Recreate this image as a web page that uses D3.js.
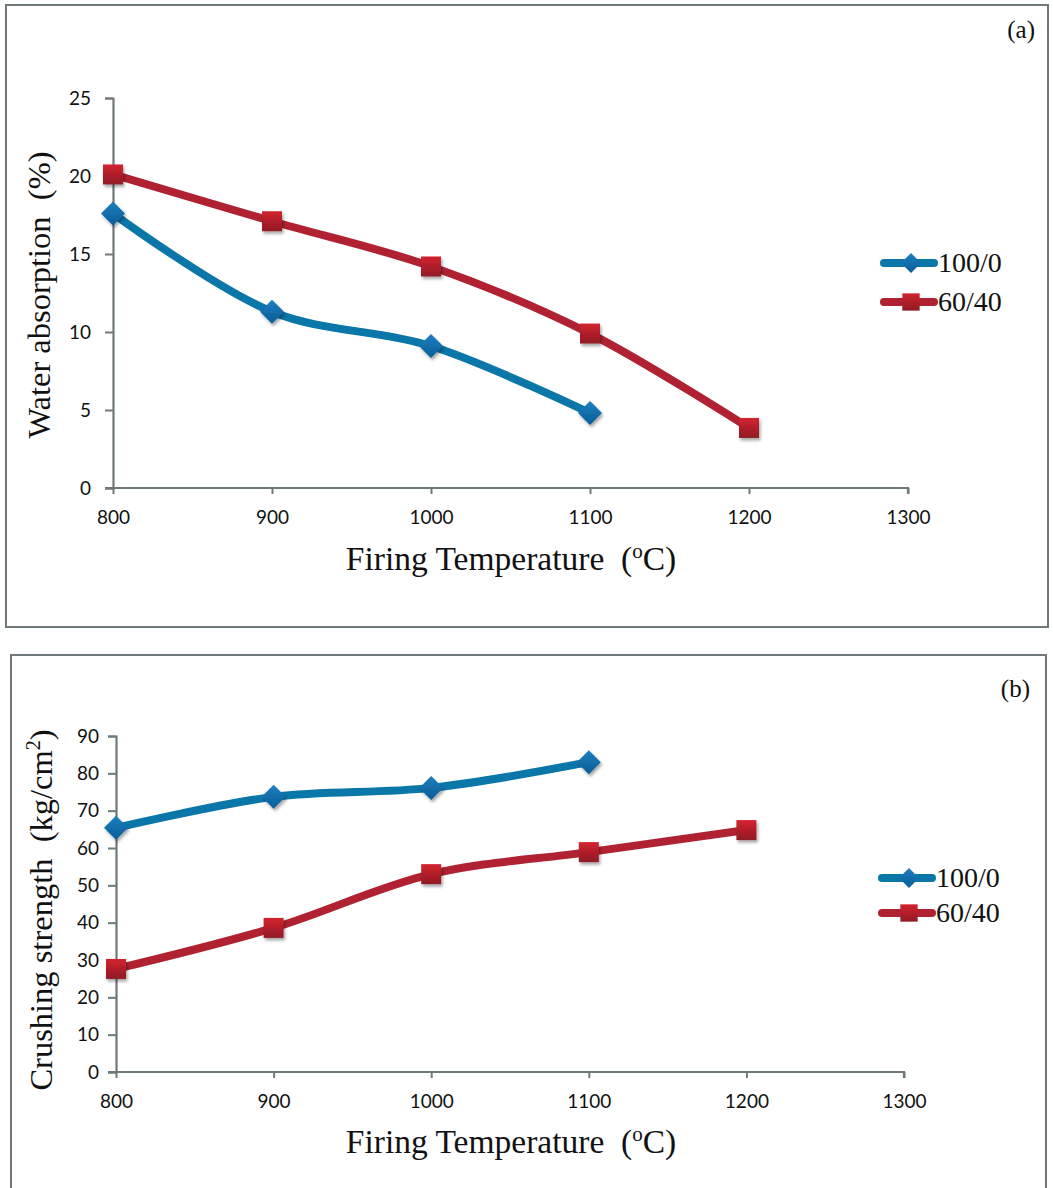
<!DOCTYPE html>
<html>
<head>
<meta charset="utf-8">
<script src="https://cdn.jsdelivr.net/npm/d3@7"></script>
<style>
  html, body { margin: 0; padding: 0; background: #fff; }
  svg { display: block; }
  text { white-space: pre; }
</style>
</head>
<body>
<svg id="chart" width="1053" height="1188"></svg>
<script>
// Firing temperatures (x categories) and tick values
const temps = [800, 900, 1000, 1100, 1200];
const xTicks = [800, 900, 1000, 1100, 1200, 1300];

// Panel (a): water absorption, %
const waterTicks = [0, 5, 10, 15, 20, 25];
const water100_0 = [17.6, 11.3, 9.1, 4.8];
const water60_40 = [20.1, 17.1, 14.2, 9.9, 3.85];

// Panel (b): crushing strength, kg/cm2
const crushTicks = [0, 10, 20, 30, 40, 50, 60, 70, 80, 90];
const crush100_0 = [65.4, 73.7, 76.1, 83.0];
const crush60_40 = [27.6, 38.6, 53.0, 58.9, 64.8];

const seriesNames = ["100/0", "60/40"];
const blue = "#0b77a9";
const red = "#b02232";
const axisGrey = "#6f787b";

const svg = d3.select("#chart");
const defs = svg.append("defs");

// soft drop shadow for markers
const sh = defs.append("filter").attr("id", "shadow")
  .attr("x", "-50%").attr("y", "-50%").attr("width", "200%").attr("height", "200%");
sh.append("feDropShadow").attr("dx", 1.5).attr("dy", 2.5).attr("stdDeviation", 1.6)
  .attr("flood-color", "#000").attr("flood-opacity", 0.35);

const gRed = defs.append("linearGradient").attr("id", "gradRed")
  .attr("x1", 0).attr("y1", 0).attr("x2", 0).attr("y2", 1);
gRed.append("stop").attr("offset", "0%").attr("stop-color", "#d3222f");
gRed.append("stop").attr("offset", "100%").attr("stop-color", "#8f1b25");
const gBlue = defs.append("linearGradient").attr("id", "gradBlue")
  .attr("x1", 0).attr("y1", 0).attr("x2", 0).attr("y2", 1);
gBlue.append("stop").attr("offset", "0%").attr("stop-color", "#1f7fc0");
gBlue.append("stop").attr("offset", "100%").attr("stop-color", "#075d96");

const serif = "'Liberation Serif', 'Times New Roman', serif";
const sans = "Lato, 'Open Sans', sans-serif";

function drawPanel(cfg) {
  // outer frame
  svg.append("rect")
    .attr("x", cfg.frame[0]).attr("y", cfg.frame[1])
    .attr("width", cfg.frame[2]).attr("height", cfg.frame[3])
    .attr("fill", "none").attr("stroke", axisGrey).attr("stroke-width", 2);

  const x = d3.scaleLinear().domain([800, 1300]).range([cfg.x0, cfg.x1]);
  const y = d3.scaleLinear().domain([cfg.yTicks[0], cfg.yTicks[cfg.yTicks.length - 1]])
    .range([cfg.y0, cfg.y1]);

  const g = svg.append("g");

  // y axis
  const ya = g.append("g").attr("transform", `translate(${cfg.x0},0)`)
    .call(d3.axisLeft(y).tickValues(cfg.yTicks).tickSize(8).tickPadding(cfg.yPad).tickFormat(d3.format("d")));
  // x axis
  const xa = g.append("g").attr("transform", `translate(0,${cfg.y0})`)
    .call(d3.axisBottom(x).tickValues(xTicks).tickSize(6).tickPadding(17).tickFormat(d3.format("d")));
  [ya, xa].forEach(a => {
    a.select(".domain").attr("stroke", axisGrey).attr("stroke-width", 2.2);
    a.selectAll(".tick line").attr("stroke", axisGrey).attr("stroke-width", 2);
    a.selectAll("text").attr("font-family", sans).attr("font-size", 19).attr("fill", "#111");
  });
  // extend x domain to the left so it meets the y axis ticks
  xa.select(".domain").attr("d", `M${cfg.x0 - 8},0H${cfg.x1}V6`);

  // axis titles
  const xt = g.append("text")
    .attr("x", cfg.xTitle[0]).attr("y", cfg.xTitle[1])
    .attr("text-anchor", "middle").attr("font-family", serif).attr("font-size", 33.5).attr("fill", "#111");
  xt.append("tspan").text("Firing Temperature  (");
  xt.append("tspan").attr("font-size", 21).attr("dy", -12).text("o");
  xt.append("tspan").attr("dy", 12).text("C)");

  const yt = g.append("text")
    .attr("transform", `translate(${cfg.yTitle[0]},${cfg.yTitle[1]}) rotate(-90)`)
    .attr("text-anchor", "middle").attr("font-family", serif).attr("font-size", 32.5).attr("fill", "#111");
  cfg.yTitleParts.forEach(p => {
    const t = yt.append("tspan").text(p.t);
    if (p.sup) t.attr("font-size", 20).attr("dy", -12);
    if (p.down) t.attr("dy", 12);
  });

  // panel tag
  g.append("text").attr("x", cfg.tag[0]).attr("y", cfg.tag[1])
    .attr("text-anchor", "end").attr("font-family", serif).attr("font-size", 25).attr("fill", "#111")
    .text(cfg.tagText);

  const line = d3.line().x(d => x(d[0])).y(d => y(d[1])).curve(d3.curveCatmullRom.alpha(0.5));

  const series = [
    { name: seriesNames[0], vals: cfg.s1, color: blue, shape: "diamond" },
    { name: seriesNames[1], vals: cfg.s2, color: red, shape: "square" }
  ];

  series.forEach(s => {
    const pts = s.vals.map((v, i) => [temps[i], v]);
    g.append("path").datum(pts).attr("d", line)
      .attr("fill", "none").attr("stroke", s.color).attr("stroke-width", 8)
      .attr("stroke-linecap", "round").attr("stroke-linejoin", "round");
  });
  series.forEach(s => {
    const pts = s.vals.map((v, i) => [temps[i], v]);
    g.selectAll(null).data(pts).enter().append("path")
      .attr("transform", d => `translate(${x(d[0])},${y(d[1])})`)
      .attr("d", marker(s.shape))
      .attr("fill", s.shape === "square" ? "url(#gradRed)" : "url(#gradBlue)")
      .attr("filter", "url(#shadow)");
  });

  // legend
  series.forEach((s, i) => {
    const ly = cfg.legend[1] + i * cfg.legendGap;
    const lg = g.append("g");
    lg.append("line").attr("x1", cfg.legend[0]).attr("x2", cfg.legend[0] + 50)
      .attr("y1", ly).attr("y2", ly).attr("stroke", s.color).attr("stroke-width", 8)
      .attr("stroke-linecap", "round");
    lg.append("path").attr("transform", `translate(${cfg.legend[0] + 27},${ly})`)
      .attr("d", s.shape === "square" ? d3.symbol(d3.symbolSquare, 300)() : diamondPath(10))
      .attr("fill", s.shape === "square" ? "url(#gradRed)" : "url(#gradBlue)");
    lg.append("text").attr("x", cfg.legend[0] + 54).attr("y", ly + 9)
      .attr("font-family", serif).attr("font-size", 28).attr("fill", "#111").text(s.name);
  });
}

function diamondPath(r) {
  return `M0,${-r}L${r},0L0,${r}L${-r},0Z`;
}
function marker(shape) {
  return shape === "square" ? "M-10,-10H10V10H-10Z" : diamondPath(12);
}

drawPanel({
  frame: [6, 5, 1042, 622],
  x0: 113, x1: 908, y0: 488, y1: 98,
  yTicks: waterTicks, yPad: 14,
  s1: water100_0, s2: water60_40,
  xTitle: [511, 570], yTitle: [50, 295],
  yTitleParts: [{ t: "Water absorption  (%)" }],
  tag: [1035, 38], tagText: "(a)",
  legend: [884, 263], legendGap: 39
});

drawPanel({
  frame: [11, 655, 1035, 560],
  x0: 116, x1: 904, y0: 1072, y1: 736,
  yTicks: crushTicks, yPad: 9,
  s1: crush100_0, s2: crush60_40,
  xTitle: [511, 1153], yTitle: [52, 910],
  yTitleParts: [{ t: "Crushing strength  (kg/cm" }, { t: "2", sup: true }, { t: ")", down: true }],
  tag: [1030, 697], tagText: "(b)",
  legend: [882, 878], legendGap: 35
});
</script>
</body>
</html>
